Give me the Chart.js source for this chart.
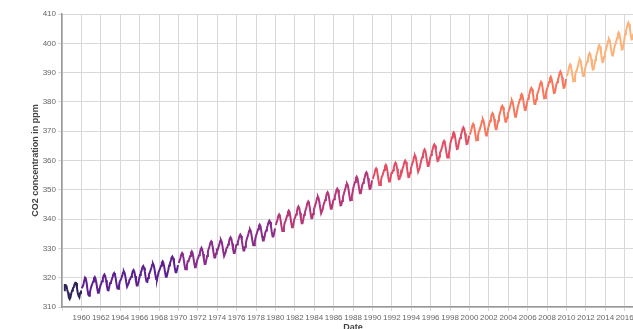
<!DOCTYPE html>
<html>
<head>
<meta charset="utf-8">
<script src="https://cdn.jsdelivr.net/npm/chart.js@4.4.0/dist/chart.umd.min.js"></script>
<style>
  html, body { margin: 0; padding: 0; background: #fff; overflow: hidden; }
  #wrap { width: 655px; height: 329px; }
</style>
</head>
<body>
<div id="wrap"><canvas id="myChart" width="655" height="329"></canvas></div>
<script>
// monthly Mauna Loa CO2 (ppm), one array per decade, first value = start month
var co2_1950s = [315.7, 317.5, 317.5, 317.2, 315.9, 314.9, 313.2, 312.7, 313.3, 314.7,
  315.6, 316.4, 316.7, 317.7, 318.3, 318.2, 316.5, 314.8, 313.8, 313.3, 314.8, 315.6];
var co2_1960s = [
  316.4, 317.0, 317.6, 319.0, 320.0, 319.6, 318.2, 315.9, 314.2, 313.8, 315.0, 316.2,
  317.2, 317.9, 318.7, 319.8, 320.2, 319.6, 318.2, 316.4, 314.9, 314.9, 316.1, 317.3,
  318.0, 318.8, 319.6, 320.7, 321.1, 320.5, 319.1, 317.2, 315.8, 315.7, 317.0, 318.2,
  318.5, 319.3, 320.1, 321.2, 321.6, 321.0, 319.6, 317.7, 316.3, 316.2, 317.5, 318.7,
  319.2, 319.9, 320.7, 321.8, 322.2, 321.6, 320.2, 318.4, 316.9, 316.9, 318.1, 319.3,
  319.6, 320.3, 321.1, 322.2, 322.6, 322.0, 320.6, 318.8, 317.3, 317.3, 318.5, 319.7,
  320.9, 321.7, 322.5, 323.6, 324.0, 323.4, 322.0, 320.1, 318.7, 318.6, 319.9, 321.1,
  321.7, 322.5, 323.3, 324.4, 324.8, 324.2, 322.8, 320.9, 319.5, 319.4, 320.7, 321.9,
  322.6, 323.3, 324.1, 325.2, 325.6, 325.0, 323.6, 321.8, 320.3, 320.3, 321.5, 322.7,
  324.2, 324.9, 325.7, 326.8, 327.2, 326.6, 325.2, 323.4, 321.9, 321.9, 323.1, 324.3];
var co2_1970s = [
  325.0, 325.9, 326.7, 327.9, 328.4, 327.8, 326.3, 324.4, 322.9, 322.9, 324.3, 325.6,
  325.6, 326.5, 327.4, 328.5, 329.0, 328.5, 326.9, 325.1, 323.6, 323.6, 324.9, 326.3,
  326.8, 327.7, 328.5, 329.7, 330.2, 329.6, 328.1, 326.2, 324.7, 324.7, 326.1, 327.4,
  329.0, 329.9, 330.7, 331.9, 332.4, 331.8, 330.3, 328.4, 326.9, 326.9, 328.3, 329.6,
  329.5, 330.4, 331.2, 332.4, 332.9, 332.3, 330.8, 328.9, 327.4, 327.4, 328.8, 330.1,
  330.4, 331.3, 332.2, 333.3, 333.8, 333.3, 331.7, 329.9, 328.4, 328.4, 329.7, 331.1,
  331.3, 332.2, 333.1, 334.2, 334.7, 334.2, 332.6, 330.8, 329.3, 329.3, 330.6, 332.0,
  333.1, 334.0, 334.9, 336.0, 336.5, 336.0, 334.4, 332.6, 331.1, 331.1, 332.4, 333.8,
  334.7, 335.6, 336.5, 337.6, 338.1, 337.6, 336.0, 334.2, 332.7, 332.7, 334.0, 335.4,
  336.1, 337.0, 337.9, 339.0, 339.5, 339.0, 337.4, 335.6, 334.1, 334.1, 335.4, 336.8];
var co2_1980s = [
  338.0, 338.9, 339.8, 341.1, 341.6, 341.0, 339.4, 337.5, 335.9, 335.9, 337.3, 338.8,
  339.3, 340.3, 341.2, 342.4, 342.9, 342.4, 340.8, 338.8, 337.2, 337.3, 338.7, 340.1,
  340.7, 341.6, 342.5, 343.8, 344.3, 343.7, 342.1, 340.2, 338.6, 338.6, 340.0, 341.5,
  342.4, 343.3, 344.2, 345.5, 346.0, 345.4, 343.8, 341.9, 340.3, 340.3, 341.7, 343.2,
  344.1, 345.0, 345.9, 347.2, 347.7, 347.1, 345.5, 343.6, 342.0, 342.0, 343.4, 344.9,
  345.6, 346.5, 347.4, 348.7, 349.2, 348.6, 347.0, 345.1, 343.5, 343.5, 344.9, 346.4,
  346.8, 347.8, 348.7, 349.9, 350.4, 349.9, 348.3, 346.3, 344.7, 344.8, 346.2, 347.6,
  348.5, 349.5, 350.4, 351.6, 352.1, 351.6, 350.0, 348.0, 346.4, 346.5, 347.9, 349.3,
  350.9, 351.8, 352.7, 354.0, 354.5, 353.9, 352.3, 350.4, 348.8, 348.8, 350.2, 351.7,
  352.4, 353.4, 354.3, 355.5, 356.0, 355.5, 353.9, 351.9, 350.3, 350.4, 351.8, 353.2];
var co2_1990s = [
  353.7, 354.6, 355.5, 356.8, 357.3, 356.7, 355.1, 353.2, 351.6, 351.6, 353.0, 354.5,
  354.9, 355.9, 356.8, 358.0, 358.5, 358.0, 356.4, 354.4, 352.8, 352.9, 354.3, 355.7,
  355.7, 356.7, 357.6, 358.8, 359.3, 358.8, 357.2, 355.2, 353.6, 353.7, 355.1, 356.5,
  356.4, 357.4, 358.3, 359.5, 360.0, 359.5, 357.9, 355.9, 354.3, 354.4, 355.8, 357.2,
  358.2, 359.1, 360.0, 361.3, 361.8, 361.2, 359.6, 357.7, 356.1, 356.1, 357.5, 359.0,
  360.2, 361.1, 362.0, 363.3, 363.8, 363.2, 361.6, 359.7, 358.1, 358.1, 359.5, 361.0,
  361.9, 362.9, 363.8, 365.0, 365.5, 365.0, 363.4, 361.4, 359.8, 359.9, 361.3, 362.7,
  363.1, 364.0, 364.9, 366.2, 366.7, 366.1, 364.5, 362.6, 361.0, 361.0, 362.4, 363.9,
  366.0, 367.0, 367.9, 369.1, 369.6, 369.1, 367.5, 365.5, 363.9, 364.0, 365.4, 366.8,
  367.7, 368.7, 369.6, 370.8, 371.3, 370.8, 369.2, 367.2, 365.6, 365.7, 367.1, 368.5];
var co2_2000s = [
  368.8, 369.7, 370.7, 371.9, 372.5, 371.9, 370.4, 368.5, 366.9, 367.0, 368.4, 369.9,
  370.4, 371.3, 372.3, 373.5, 374.1, 373.5, 372.0, 370.1, 368.5, 368.6, 370.0, 371.5,
  372.5, 373.5, 374.4, 375.7, 376.2, 375.7, 374.2, 372.2, 370.7, 370.7, 372.2, 373.6,
  375.0, 376.0, 376.9, 378.2, 378.7, 378.2, 376.7, 374.7, 373.2, 373.2, 374.7, 376.1,
  376.8, 377.7, 378.7, 379.9, 380.5, 379.9, 378.4, 376.5, 374.9, 375.0, 376.4, 377.9,
  379.0, 380.0, 380.9, 382.2, 382.7, 382.2, 380.7, 378.7, 377.2, 377.2, 378.7, 380.1,
  381.1, 382.1, 383.0, 384.3, 384.8, 384.3, 382.8, 380.8, 379.3, 379.3, 380.8, 382.2,
  383.1, 384.0, 385.0, 386.2, 386.8, 386.2, 384.7, 382.8, 381.2, 381.3, 382.7, 384.2,
  384.9, 385.8, 386.8, 388.0, 388.6, 388.0, 386.5, 384.6, 383.0, 383.1, 384.5, 386.0,
  386.7, 387.6, 388.6, 389.8, 390.4, 389.8, 388.3, 386.4, 384.8, 384.9, 386.3, 387.8];
var co2_2010s = [
  388.8, 389.8, 390.8, 392.2, 392.8, 392.2, 390.7, 388.6, 387.0, 387.1, 388.7, 390.2,
  390.5, 391.6, 392.6, 393.9, 394.5, 394.0, 392.4, 390.4, 388.8, 388.9, 390.4, 392.0,
  392.7, 393.8, 394.8, 396.1, 396.7, 396.2, 394.6, 392.6, 391.0, 391.1, 392.6, 394.2,
  395.4, 396.4, 397.4, 398.8, 399.4, 398.8, 397.3, 395.2, 393.6, 393.7, 395.3, 396.8,
  397.5, 398.6, 399.6, 400.9, 401.5, 401.0, 399.4, 397.4, 395.8, 395.9, 397.4, 399.0,
  399.7, 400.7, 401.7, 403.1, 403.7, 403.1, 401.6, 399.5, 397.9, 398.0, 399.6, 401.1,
  403.1, 404.1, 405.1, 406.5, 407.1, 406.5, 405.0, 402.9, 401.3, 401.4, 403.0, 404.5,
  405.4, 406.5, 407.5, 408.8, 409.4, 408.9, 407.3, 405.3, 403.7, 403.8, 405.3, 406.9];

var decades = [
  {start: 1958 + 2/12, values: co2_1950s, color: '#2f2358'},
  {start: 1960, values: co2_1960s, color: '#5e2090'},
  {start: 1970, values: co2_1970s, color: '#8a2c8c'},
  {start: 1980, values: co2_1980s, color: '#b5367a'},
  {start: 1990, values: co2_1990s, color: '#e34e65'},
  {start: 2000, values: co2_2000s, color: '#f8775c'},
  {start: 2010, values: co2_2010s, color: '#fdb27a'}
];
var yTicks = [310, 320, 330, 340, 350, 360, 370, 380, 390, 400, 410];

var datasets = decades.map(function (d) {
  return {
    data: d.values.map(function (v, i) { return {x: d.start + (i + 0.5) / 12, y: v}; }),
    borderColor: d.color,
    backgroundColor: d.color,
    borderWidth: 2,
    pointRadius: 0,
    tension: 0,
    fill: false
  };
});

var ctx = document.getElementById('myChart').getContext('2d');
var chart = new Chart(ctx, {
  type: 'line',
  data: {datasets: datasets},
  options: {
    responsive: false,
    animation: false,
    layout: {autoPadding: false, padding: {top: 14, right: 3, left: 0, bottom: 0}},
    plugins: {legend: {display: false}, tooltip: {enabled: false}},
    scales: {
      x: {
        type: 'linear',
        min: 1958,
        max: 2018,
        afterFit: function (s) { s.height = 22; },
        ticks: {
          stepSize: 2,
          autoSkip: false,
          maxRotation: 0,
          padding: 2,
          color: '#666',
          font: {family: 'Liberation Sans', size: 8},
          callback: function (v) { return v === 1958 ? '' : String(v); }
        },
        grid: {color: '#d8d8d8', lineWidth: 1, tickLength: 4},
        border: {color: '#999', width: 1.5},
        title: {
          display: true,
          text: 'Date',
          color: '#444',
          padding: {top: 0, bottom: -4},
          font: {family: 'Liberation Sans', size: 9, weight: 'bold'}
        }
      },
      y: {
        min: 310,
        max: 410,
        afterFit: function (s) { s.width = 62; },
        afterBuildTicks: function (s) { s.ticks = yTicks.map(function (v) { return {value: v}; }); },
        ticks: {
          padding: 2,
          color: '#666',
          font: {family: 'Liberation Sans', size: 8}
        },
        grid: {color: '#d8d8d8', lineWidth: 1, tickLength: 4},
        border: {color: '#999', width: 1.5},
        title: {
          display: true,
          text: 'CO2 concentration in ppm',
          color: '#444',
          padding: {top: 30, bottom: 0},
          font: {family: 'Liberation Sans', size: 9, weight: 'bold'}
        }
      }
    }
  }
});
</script>
</body>
</html>
